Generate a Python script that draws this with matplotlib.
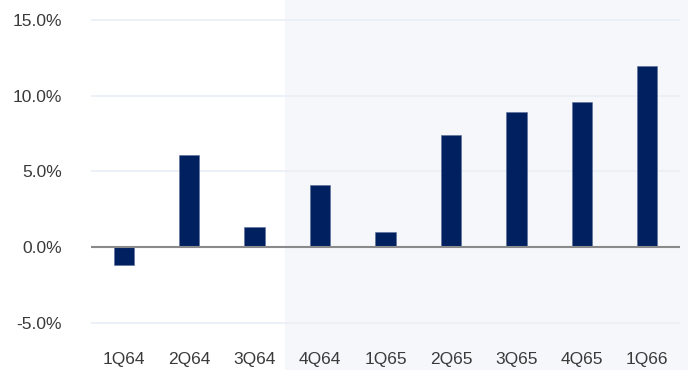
import matplotlib
matplotlib.use("Agg")
import matplotlib.pyplot as plt
from matplotlib.patches import Rectangle

categories = ["1Q64", "2Q64", "3Q64", "4Q64", "1Q65", "2Q65", "3Q65", "4Q65", "1Q66"]
values = [-1.2, 6.1, 1.3, 4.1, 1.0, 7.4, 8.9, 9.6, 12.0]
yticks = [-5, 0, 5, 10, 15]
shade_start = 2.5  # boundary between 3Q64 and 4Q64

plt.rcParams['font.family'] = ['Liberation Sans', 'DejaVu Sans']

W, H = 688, 370
fig = plt.figure(figsize=(W / 100, H / 100), dpi=100)
fig.patch.set_facecolor("white")

left, right, top, bottom = 91, 680, 8, 341
ax = fig.add_axes([left / W, 1 - bottom / H, (right - left) / W, (bottom - top) / H])
ax.set_facecolor("none")

x = list(range(len(categories)))
ax.set_xlim(-0.5, len(categories) - 0.5)
ax.set_ylim(-6.2, 15.8)

# shaded forecast region spanning full figure height
x0_disp = ax.transData.transform((shade_start, 0))[0]
x0_fig = x0_disp / fig.bbox.width
fig.patches.append(Rectangle((x0_fig - 0.004, 0), 1 - x0_fig + 0.004, 1,
                             transform=fig.transFigure, facecolor="#f6f7fa",
                             edgecolor="none", zorder=-10))

for t in yticks:
    if t != 0:
        ax.axhline(t, color="#e9eef6", linewidth=1.2, zorder=1)
ax.axhline(0, color="#8a8a8a", linewidth=1.5, zorder=3)

ax.bar(x, values, width=0.31, color="#002060", edgecolor="#5a6d96",
       linewidth=0.4, zorder=2)

ax.set_yticks(yticks)
ax.set_yticklabels([f"{t:.1f}%" for t in yticks])
ax.set_xticks(x)
ax.set_xticklabels(categories)
ax.tick_params(axis="both", length=0, labelsize=12.5, colors="#3a3a3a")
ax.tick_params(axis="y", pad=21)
ax.tick_params(axis="x", pad=8)
for s in ax.spines.values():
    s.set_visible(False)

fig.savefig("out.png", dpi=100, facecolor=fig.get_facecolor())
